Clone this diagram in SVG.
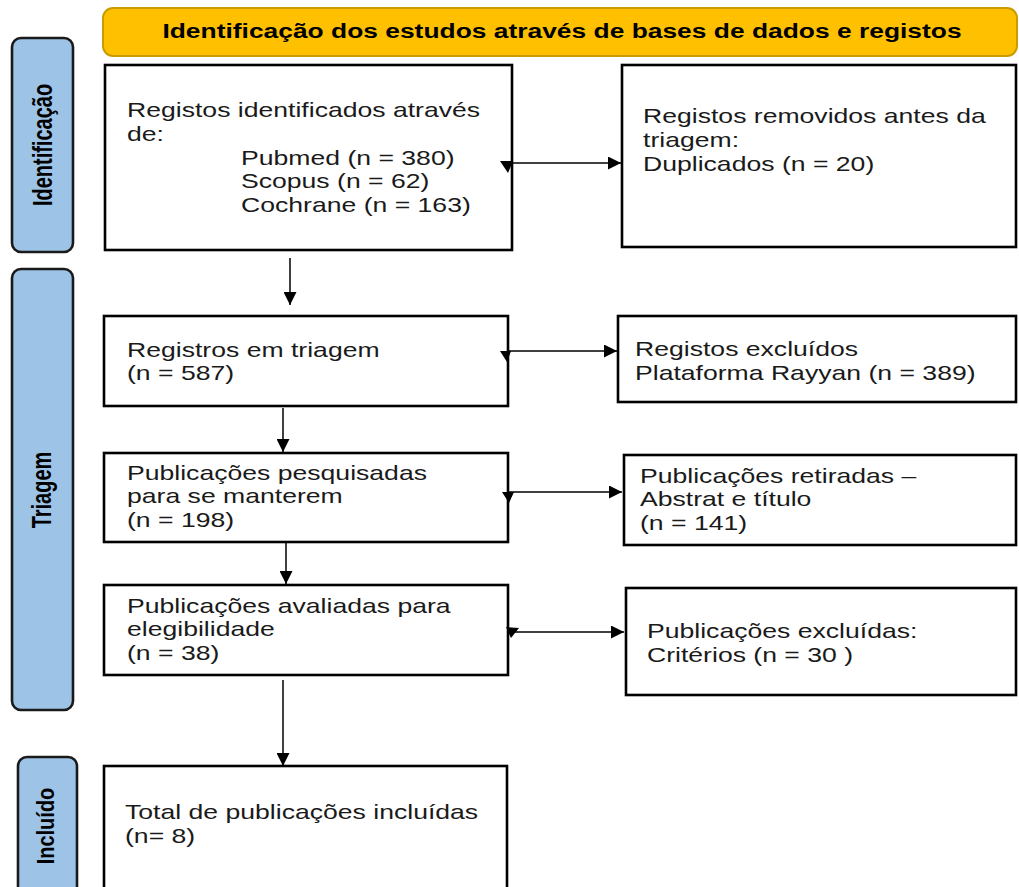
<svg xmlns="http://www.w3.org/2000/svg" width="1019" height="887" viewBox="0 0 1019 887">
<style>
.box{fill:#ffffff;stroke:#000000;stroke-width:2.6}
.side{fill:#9DC3E6;stroke:#1a1a1a;stroke-width:2.6}
.hdr{fill:#FFC000;stroke:#C89B00;stroke-width:2}
.t{font-family:"Liberation Sans",Arial,sans-serif;font-size:20px;fill:#1a1a1a}
.lbl{font-family:"Liberation Sans",Arial,sans-serif;font-size:20px;font-weight:bold;fill:#000000;text-anchor:middle}
.ht{font-family:"Liberation Sans",Arial,sans-serif;font-size:20px;font-weight:bold;fill:#000000;text-anchor:middle}
.c{stroke:#000000;stroke-width:1.5;fill:none}
.tri{fill:#000000}
</style>
<defs>
<marker id="ah" markerUnits="userSpaceOnUse" markerWidth="13" markerHeight="13" viewBox="0 0 13 13" refX="13" refY="6.5" orient="auto">
<path d="M0,0 L13,6.5 L0,13 Z" fill="#000000"/>
</marker>
</defs>
<rect width="1019" height="887" fill="#ffffff"/>

<g id="header">
<rect class="hdr" x="103" y="8" width="914" height="48" rx="10"/>
<text class="ht" transform="translate(562,38) scale(1.32,1)">Identificação dos estudos através de bases de dados e registos</text>
</g>

<g id="label-identificacao">
<rect class="side" x="12" y="38" width="61" height="214" rx="9"/>
<text class="lbl" transform="translate(52,145) scale(1.35,1) rotate(-90)">Identificação</text>
</g>
<g id="label-triagem">
<rect class="side" x="12" y="269" width="61" height="441" rx="9"/>
<text class="lbl" transform="translate(51,490) scale(1.35,1) rotate(-90)">Triagem</text>
</g>
<g id="label-incluido">
<rect class="side" x="18" y="757" width="59" height="140" rx="9"/>
<text class="lbl" transform="translate(54,826) scale(1.15,1) rotate(-90)">Incluído</text>
</g>

<g id="node-identificados">
<rect class="box" x="105" y="65" width="407" height="185"/>
<text class="t" transform="translate(127,117) scale(1.33,1)"><tspan x="0" y="0">Registos identificados através</tspan><tspan x="0" y="24">de:</tspan></text>
<text class="t" transform="translate(241,165) scale(1.33,1)"><tspan x="0" y="0">Pubmed (n = 380)</tspan><tspan x="0" y="23.5">Scopus (n = 62)</tspan><tspan x="0" y="47">Cochrane (n = 163)</tspan></text>
</g>

<g id="node-removidos">
<rect class="box" x="622" y="65" width="394" height="182"/>
<text class="t" transform="translate(643,123) scale(1.33,1)"><tspan x="0" y="0">Registos removidos antes da</tspan><tspan x="0" y="24">triagem:</tspan><tspan x="0" y="48">Duplicados (n = 20)</tspan></text>
</g>

<g id="node-triagem">
<rect class="box" x="104" y="316" width="404" height="90"/>
<text class="t" transform="translate(127,357) scale(1.33,1)"><tspan x="0" y="0">Registros em triagem</tspan><tspan x="0" y="23.5">(n = 587)</tspan></text>
</g>

<g id="node-excluidos-rayyan">
<rect class="box" x="618" y="316" width="398" height="86"/>
<text class="t" transform="translate(635,356) scale(1.33,1)"><tspan x="0" y="0">Registos excluídos</tspan><tspan x="0" y="24">Plataforma Rayyan (n = 389)</tspan></text>
</g>

<g id="node-pesquisadas">
<rect class="box" x="104" y="453" width="404" height="89"/>
<text class="t" transform="translate(127,480) scale(1.33,1)"><tspan x="0" y="0">Publicações pesquisadas</tspan><tspan x="0" y="23.5">para se manterem</tspan><tspan x="0" y="47">(n = 198)</tspan></text>
</g>

<g id="node-retiradas">
<rect class="box" x="624" y="455" width="392" height="90"/>
<text class="t" transform="translate(640,483) scale(1.33,1)"><tspan x="0" y="0">Publicações retiradas –</tspan><tspan x="0" y="23.5">Abstrat e título</tspan><tspan x="0" y="47">(n = 141)</tspan></text>
</g>

<g id="node-elegibilidade">
<rect class="box" x="104" y="585" width="404" height="90"/>
<text class="t" transform="translate(127,613) scale(1.33,1)"><tspan x="0" y="0">Publicações avaliadas para</tspan><tspan x="0" y="23.5">elegibilidade</tspan><tspan x="0" y="47">(n = 38)</tspan></text>
</g>

<g id="node-excluidas-criterios">
<rect class="box" x="626" y="588" width="390" height="107"/>
<text class="t" transform="translate(647,638) scale(1.33,1)"><tspan x="0" y="0">Publicações excluídas:</tspan><tspan x="0" y="24">Critérios (n = 30 )</tspan></text>
</g>

<g id="node-incluidas">
<rect class="box" x="104" y="766" width="403" height="130"/>
<text class="t" transform="translate(125,819) scale(1.33,1)"><tspan x="0" y="0">Total de publicações incluídas</tspan><tspan x="0" y="24">(n= 8)</tspan></text>
</g>

<g id="connectors">
<line class="c" x1="290" y1="258" x2="290" y2="305" marker-end="url(#ah)"/>
<line class="c" x1="283" y1="408" x2="283" y2="452" marker-end="url(#ah)"/>
<line class="c" x1="286" y1="542" x2="286" y2="584" marker-end="url(#ah)"/>
<line class="c" x1="283" y1="680" x2="283" y2="766" marker-end="url(#ah)"/>
<line class="c" x1="512" y1="163" x2="621" y2="163" marker-end="url(#ah)"/>
<line class="c" x1="508" y1="351" x2="617" y2="351" marker-end="url(#ah)"/>
<line class="c" x1="508" y1="492" x2="622" y2="492" marker-end="url(#ah)"/>
<line class="c" x1="508" y1="632" x2="624" y2="632" marker-end="url(#ah)"/>
<polygon class="tri" points="500,161 513,161 508,173"/>
<polygon class="tri" points="500,351 511,351 507,362"/>
<polygon class="tri" points="502,492 514,492 509,503"/>
<polygon class="tri" points="506,627 519,628 511,638"/>
</g>
</svg>
